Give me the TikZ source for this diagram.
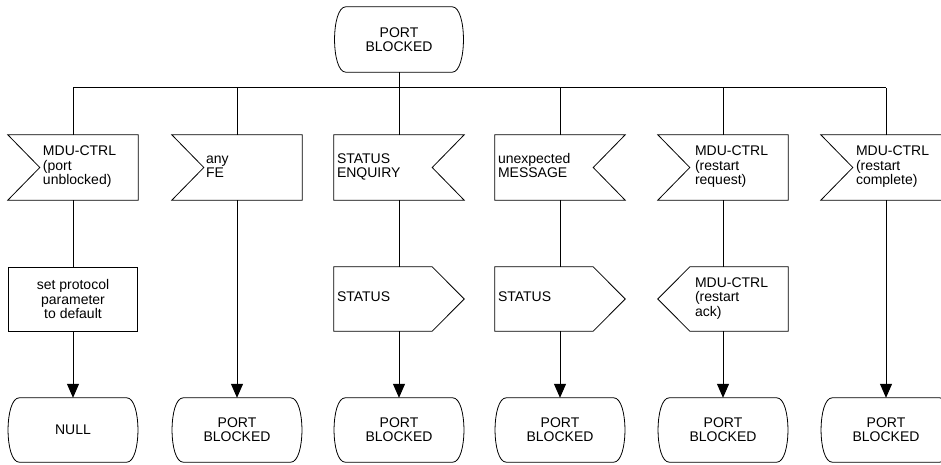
\documentclass[tikz,border=0pt]{standalone}
\usepackage{fontspec}
\setmainfont{Liberation Sans}
\usetikzlibrary{arrows.meta}
\tikzset{
  base/.style={inner sep=0pt, font=\fontsize{14pt}{14.3pt}\selectfont},
  sigbox/.style={base, minimum width=130pt, minimum height=65pt},
  outbox/.style={base, minimum width=130pt, minimum height=64pt},
  statebox/.style={base, minimum width=129pt, minimum height=64pt, align=center},
  taskbox/.style={base, draw, line width=0.8pt, minimum width=129pt, minimum height=64pt, align=center},
  shp/.style={line width=0.8pt},
  conn/.style={line width=1pt},
  arr/.style={conn, -{Triangle[length=14pt,width=12pt]}}
}
\newcommand\sigtext[2]{\makebox[130pt][l]{\hspace*{#1}\begin{tabular}{@{}l@{}}#2\end{tabular}}}
\newcommand\stateoutline[1]{\draw[shp] ([xshift=11pt]#1.north west) -- ([xshift=-11pt]#1.north east)
  .. controls ([xshift=4pt]#1.north east) and ([xshift=4pt]#1.south east) .. ([xshift=-11pt]#1.south east)
  -- ([xshift=11pt]#1.south west)
  .. controls ([xshift=-4pt]#1.south west) and ([xshift=-4pt]#1.north west) .. cycle;}
\newcommand\inleft[1]{\draw[shp] (#1.north west) -- (#1.north east) -- (#1.south east) -- (#1.south west) -- ([xshift=32pt]#1.west) -- cycle;}
\newcommand\inright[1]{\draw[shp] (#1.north west) -- (#1.north east) -- ([xshift=-32pt]#1.east) -- (#1.south east) -- (#1.south west) -- cycle;}
\newcommand\outright[1]{\draw[shp] (#1.north west) -- ([xshift=-32pt]#1.north east) -- (#1.east) -- ([xshift=-32pt]#1.south east) -- (#1.south west) -- cycle;}
\newcommand\outleft[1]{\draw[shp] (#1.west) -- ([xshift=32pt]#1.north west) -- (#1.north east) -- (#1.south east) -- ([xshift=32pt]#1.south west) -- cycle;}
\begin{document}
\begin{tikzpicture}[x=1pt,y=-1pt]
\clip (0,0) rectangle (941,465);
\fill[white] (0,0) rectangle (941,465);

% top state
\node[statebox, minimum width=128pt, minimum height=65pt] (top) at (399,39.5) {PORT\\BLOCKED};
\stateoutline{top}

% bus coordinates
\coordinate (b1) at (73,88);
\coordinate (b2) at (237,88);
\coordinate (b3) at (399,88);
\coordinate (b4) at (560,88);
\coordinate (b5) at (723,88);
\coordinate (b6) at (886,88);
\draw[conn] (b1) -- (b6);
\draw[conn] (top.south) -- (b3);

% inputs
\node[sigbox] (i1) at (73,167.5) {\sigtext{35pt}{MDU-CTRL\\(port\\unblocked)}};
\node[sigbox] (i2) at (237,167.5) {\sigtext{34pt}{any\\FE}};
\node[sigbox] (i3) at (399,167.5) {\sigtext{3pt}{STATUS\\ENQUIRY}};
\node[sigbox] (i4) at (560,167.5) {\sigtext{3pt}{unexpected\\MESSAGE}};
\node[sigbox] (i5) at (723,167.5) {\sigtext{37pt}{MDU-CTRL\\(restart\\request)}};
\node[sigbox] (i6) at (886,167.5) {\sigtext{35pt}{MDU-CTRL\\(restart\\complete)}};
\inleft{i1}\inleft{i2}\inright{i3}\inright{i4}\inleft{i5}\inleft{i6}

\foreach \k in {1,...,6}{\draw[conn] (b\k) -- (i\k.north);}

% middle elements
\node[taskbox] (t1) at (73,299) {set protocol\\parameter\\ to default};
\node[outbox] (o3) at (399,299) {\sigtext{3pt}{STATUS}};
\node[outbox] (o4) at (560,299) {\sigtext{3pt}{STATUS}};
\node[outbox] (o5) at (723,299) {\sigtext{37pt}{MDU-CTRL\\(restart\\ack)}};
\outright{o3}\outright{o4}\outleft{o5}

% bottom states
\node[statebox] (s1) at (73,430) {NULL};
\node[statebox] (s2) at (237,430) {PORT\\BLOCKED};
\node[statebox] (s3) at (399,430) {PORT\\BLOCKED};
\node[statebox] (s4) at (560,430) {PORT\\BLOCKED};
\node[statebox] (s5) at (723,430) {PORT\\BLOCKED};
\node[statebox] (s6) at (886,430) {PORT\\BLOCKED};
\foreach \k in {1,...,6}{\stateoutline{s\k}}

% connectors
\draw[conn] (i1.south) -- (t1.north);
\draw[arr] (t1.south) -- (s1.north);
\draw[arr] (i2.south) -- (s2.north);
\draw[conn] (i3.south) -- (o3.north);
\draw[arr] (o3.south) -- (s3.north);
\draw[conn] (i4.south) -- (o4.north);
\draw[arr] (o4.south) -- (s4.north);
\draw[conn] (i5.south) -- (o5.north);
\draw[arr] (o5.south) -- (s5.north);
\draw[arr] (i6.south) -- (s6.north);
\end{tikzpicture}
\end{document}
